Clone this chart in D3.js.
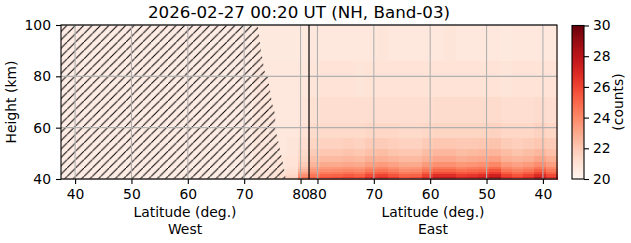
<!DOCTYPE html>
<html>
<head>
<meta charset="utf-8">
<script src="https://cdn.jsdelivr.net/npm/d3@7"></script>
<style>
  body { margin: 0; background: #fff; }
  svg { display: block; font-family: 'DejaVu Sans', sans-serif; }
</style>
</head>
<body>
<div id="container"></div>
<script>
const width = 631;
const height = 243;

// height bands (km), bottom to top
const heightEdges = [40, 41, 42, 43, 44, 45, 47, 49, 52, 56, 62, 72, 86, 100];

// west half: latitude column edges, increasing towards the pole
const westLatEdges = [37.5, 71.5, 73.5, 75.5, 77.5, 79.5, 81.5];
// one profile per column, values per height band (counts)
const westCounts = [
  [20.5, 20.5, 20.5, 20.5, 20.5, 20.5, 20.5, 20.5, 20.5, 20.5, 20.5, 20.5, 20.5],
  [20.9, 20.9, 20.8, 20.8, 20.8, 20.8, 20.8, 20.8, 20.8, 20.8, 20.8, 20.8, 20.7],
  [21.0, 20.9, 20.9, 20.9, 20.8, 20.8, 20.8, 20.8, 20.8, 20.8, 20.8, 20.8, 20.7],
  [21.3, 21.1, 21.0, 21.0, 20.9, 20.9, 20.9, 20.8, 20.8, 20.8, 20.8, 20.8, 20.7],
  [21.8, 21.5, 21.3, 21.2, 21.1, 21.0, 21.0, 20.9, 20.9, 20.8, 20.8, 20.8, 20.7],
  [24.8, 23.9, 23.2, 22.7, 22.3, 21.9, 21.6, 21.4, 21.2, 21.0, 20.9, 20.8, 20.7]
];

// east half: latitude column edges, decreasing away from the pole
const eastLatEdges = [81.5, 79.5, 77.5, 75.5, 73.5, 71.5, 69.5, 67.5, 65.5, 63.5, 61.5, 59.5,
  57.5, 55.5, 53.5, 51.5, 49.5, 47.5, 45.5, 43.5, 41.5, 39.5, 37.5];
const eastCounts = [
  [25.3, 24.6, 24.0, 23.6, 23.2, 22.7, 22.3, 21.9, 21.6, 21.3, 21.1, 20.9, 20.8],
  [25.8, 25.1, 24.4, 23.9, 23.5, 23.0, 22.5, 22.1, 21.7, 21.4, 21.2, 21.0, 20.8],
  [26.0, 25.2, 24.5, 24.0, 23.6, 23.0, 22.5, 22.1, 21.7, 21.4, 21.2, 21.0, 20.8],
  [26.2, 25.4, 24.7, 24.1, 23.7, 23.1, 22.6, 22.2, 21.8, 21.4, 21.2, 21.0, 20.8],
  [26.0, 25.2, 24.5, 24.0, 23.6, 23.0, 22.5, 22.1, 21.7, 21.4, 21.2, 20.9, 20.8],
  [26.8, 25.9, 25.1, 24.5, 24.0, 23.4, 22.8, 22.3, 21.9, 21.5, 21.2, 21.0, 20.8],
  [27.0, 26.1, 25.3, 24.6, 24.1, 23.5, 22.8, 22.4, 21.9, 21.5, 21.2, 21.0, 20.9],
  [26.5, 25.6, 24.9, 24.3, 23.8, 23.3, 22.7, 22.2, 21.8, 21.5, 21.2, 21.0, 20.8],
  [25.8, 25.1, 24.4, 23.9, 23.5, 23.0, 22.5, 22.1, 21.7, 21.4, 21.2, 21.0, 20.8],
  [26.0, 25.2, 24.5, 24.0, 23.6, 23.0, 22.5, 22.1, 21.7, 21.4, 21.2, 21.0, 20.8],
  [27.0, 26.1, 25.3, 24.6, 24.1, 23.5, 22.8, 22.4, 21.9, 21.5, 21.2, 21.0, 20.8],
  [27.8, 26.8, 25.8, 25.1, 24.5, 23.8, 23.1, 22.6, 22.1, 21.6, 21.3, 21.0, 20.8],
  [27.8, 26.8, 25.8, 25.1, 24.5, 23.8, 23.1, 22.6, 22.1, 21.6, 21.3, 21.0, 20.9],
  [27.3, 26.3, 25.5, 24.8, 24.2, 23.6, 22.9, 22.4, 22.0, 21.6, 21.3, 21.0, 20.8],
  [27.5, 26.5, 25.6, 25.0, 24.4, 23.7, 23.0, 22.5, 22.0, 21.6, 21.3, 21.0, 20.8],
  [27.8, 26.8, 25.8, 25.1, 24.5, 23.8, 23.1, 22.6, 22.1, 21.6, 21.3, 21.0, 20.8],
  [28.5, 27.3, 26.3, 25.6, 24.9, 24.1, 23.3, 22.7, 22.2, 21.7, 21.3, 21.0, 20.8],
  [27.0, 26.1, 25.3, 24.6, 24.1, 23.5, 22.8, 22.4, 21.9, 21.5, 21.2, 20.9, 20.7],
  [26.5, 25.6, 24.9, 24.3, 23.8, 23.3, 22.7, 22.2, 21.8, 21.5, 21.2, 21.0, 20.8],
  [27.0, 26.1, 25.3, 24.6, 24.1, 23.5, 22.8, 22.4, 21.9, 21.5, 21.2, 21.0, 20.8],
  [28.0, 26.9, 26.0, 25.3, 24.6, 23.9, 23.2, 22.6, 22.1, 21.7, 21.3, 21.0, 20.8],
  [26.8, 25.9, 25.1, 24.5, 24.0, 23.4, 22.8, 22.3, 21.9, 21.5, 21.2, 21.0, 20.8]
];

// edge of the no-data (hatched) area on the west side
const hatchHeights = [100, 90, 82, 80, 70, 65, 60, 52, 46, 40];
const hatchLats = [72.4, 73.0, 73.6, 74.2, 74.9, 75.5, 75.5, 76.3, 76.9, 77.4];

const latTicks = [40, 50, 60, 70, 80];
const heightTicks = [40, 60, 80, 100];
const countTicks = [20, 22, 24, 26, 28, 30];

const title = '2026-02-27 00:20 UT (NH, Band-03)';

const plot = {left: 61, right: 557, top: 25, bottom: 179};
const mid = (plot.left + plot.right) / 2;
const bar = {left: 572, right: 584};

const xWest = d3.scaleLinear().domain([37.5, 81.5]).range([plot.left, mid]);
const xEast = d3.scaleLinear().domain([81.5, 37.5]).range([mid, plot.right]);
const y = d3.scaleLinear().domain([40, 100]).range([plot.bottom, plot.top]);
const color = d3.scaleSequential(d3.interpolateReds).domain([20, 30]);

const svg = d3.select('#container').append('svg')
  .attr('width', width)
  .attr('height', height)
  .attr('viewBox', [0, 0, width, height]);

// hatch pattern, one '/' line per tile
const hs = 8.4;
svg.append('defs').append('pattern')
  .attr('id', 'hatch')
  .attr('patternUnits', 'userSpaceOnUse')
  .attr('width', hs)
  .attr('height', hs)
  .append('path')
  .attr('d', `M-1,${hs + 1}L${hs + 1},-1`)
  .attr('stroke', '#000')
  .attr('stroke-width', 1);

function cells(latEdges, counts, x) {
  const out = [];
  counts.forEach((col, i) => {
    col.forEach((v, j) => {
      out.push({
        x0: x(latEdges[i]), x1: x(latEdges[i + 1]),
        y0: y(heightEdges[j + 1]), y1: y(heightEdges[j]), v
      });
    });
  });
  return out;
}

const allCells = cells(westLatEdges, westCounts, xWest)
  .concat(cells(eastLatEdges, eastCounts, xEast));

svg.append('g')
  .attr('shape-rendering', 'crispEdges')
  .selectAll('rect')
  .data(allCells)
  .join('rect')
  .attr('x', d => Math.min(d.x0, d.x1))
  .attr('y', d => d.y0)
  .attr('width', d => Math.abs(d.x1 - d.x0) + 0.5)
  .attr('height', d => d.y1 - d.y0 + 0.5)
  .attr('fill', d => color(d.v));

// hatched region
const hatchPoly = [[37.5, 100]]
  .concat(hatchHeights.map((h, i) => [hatchLats[i], h]))
  .concat([[37.5, 40]]);
svg.append('path')
  .attr('d', d3.line().x(d => xWest(d[0])).y(d => y(d[1]))(hatchPoly) + 'Z')
  .attr('fill', 'url(#hatch)');

// grid
const grid = svg.append('g')
  .attr('stroke', '#b0b0b0')
  .attr('stroke-width', 1.1);
grid.selectAll('.gw')
  .data(latTicks)
  .join('line')
  .attr('x1', d => xWest(d)).attr('x2', d => xWest(d))
  .attr('y1', plot.top).attr('y2', plot.bottom);
grid.selectAll('.ge')
  .data(latTicks)
  .join('line')
  .attr('class', 'ge')
  .attr('x1', d => xEast(d)).attr('x2', d => xEast(d))
  .attr('y1', plot.top).attr('y2', plot.bottom);
grid.selectAll('.gh')
  .data(heightTicks)
  .join('line')
  .attr('class', 'gh')
  .attr('x1', plot.left).attr('x2', plot.right)
  .attr('y1', d => y(d)).attr('y2', d => y(d));

// divider between west and east
svg.append('line')
  .attr('x1', mid).attr('x2', mid)
  .attr('y1', plot.top).attr('y2', plot.bottom)
  .attr('stroke', '#000')
  .attr('stroke-width', 1.2);

// frame
svg.append('rect')
  .attr('x', plot.left).attr('y', plot.top)
  .attr('width', plot.right - plot.left)
  .attr('height', plot.bottom - plot.top)
  .attr('fill', 'none')
  .attr('stroke', '#000')
  .attr('stroke-width', 1.1);

function styleAxis(g) {
  g.select('.domain').remove();
  g.selectAll('line').attr('stroke', '#000').attr('stroke-width', 1.1);
  g.selectAll('text').attr('font-size', 13.9).attr('fill', '#000')
    .attr('font-family', "'DejaVu Sans', sans-serif");
}

svg.append('g')
  .attr('transform', `translate(0,${plot.bottom})`)
  .call(d3.axisBottom(xWest).tickValues(latTicks).tickSize(5).tickPadding(5))
  .call(styleAxis);
svg.append('g')
  .attr('transform', `translate(0,${plot.bottom})`)
  .call(d3.axisBottom(xEast).tickValues(latTicks).tickSize(5).tickPadding(5))
  .call(styleAxis);
svg.append('g')
  .attr('transform', `translate(${plot.left},0)`)
  .call(d3.axisLeft(y).tickValues(heightTicks).tickSize(5).tickPadding(5))
  .call(styleAxis);

// axis labels
const labels = svg.append('g')
  .attr('font-size', 13.9)
  .attr('text-anchor', 'middle')
  .attr('fill', '#000');
[['West', (plot.left + mid) / 2], ['East', (mid + plot.right) / 2]].forEach(([side, cx]) => {
  labels.append('text').attr('x', cx).attr('y', 217).text('Latitude (deg.)');
  labels.append('text').attr('x', cx).attr('y', 234).text(side);
});
labels.append('text')
  .attr('transform', `translate(16,${(plot.top + plot.bottom) / 2}) rotate(-90)`)
  .text('Height (km)');

svg.append('text')
  .attr('x', 299)
  .attr('y', 17.5)
  .attr('text-anchor', 'middle')
  .attr('font-size', 16.7)
  .text(title);

// colorbar
const cb = d3.scaleLinear().domain([20, 30]).range([plot.bottom, plot.top + 0.5]);
const steps = d3.range(0, 200);
svg.append('g')
  .attr('shape-rendering', 'crispEdges')
  .selectAll('rect')
  .data(steps)
  .join('rect')
  .attr('x', bar.left)
  .attr('width', bar.right - bar.left)
  .attr('y', d => cb(20 + (d + 1) * 10 / steps.length))
  .attr('height', (cb(20) - cb(30)) / steps.length + 0.6)
  .attr('fill', d => color(20 + (d + 0.5) * 10 / steps.length));
svg.append('rect')
  .attr('x', bar.left).attr('y', cb(30))
  .attr('width', bar.right - bar.left)
  .attr('height', cb(20) - cb(30))
  .attr('fill', 'none')
  .attr('stroke', '#000')
  .attr('stroke-width', 1.1);
svg.append('g')
  .attr('transform', `translate(${bar.right},0)`)
  .call(d3.axisRight(cb).tickValues(countTicks).tickSize(5).tickPadding(4))
  .call(styleAxis);
svg.append('text')
  .attr('transform', `translate(623,${(plot.top + plot.bottom) / 2}) rotate(-90)`)
  .attr('text-anchor', 'middle')
  .attr('font-size', 13.9)
  .text('(counts)');
</script>
</body>
</html>
